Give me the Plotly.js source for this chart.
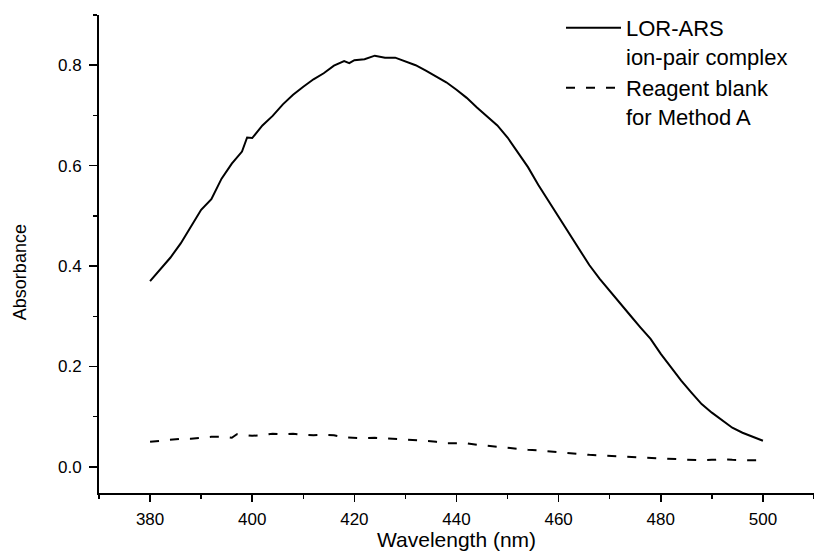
<!DOCTYPE html>
<html>
<head>
<meta charset="utf-8">
<script src="https://cdn.plot.ly/plotly-3.0.1.min.js"></script>
<style>html,body{margin:0;padding:0;background:#fff;}#chart{width:814px;height:553px;}</style>
</head>
<body>
<div id="chart"></div>
<script>
// Wavelength (nm) and absorbance for LOR-ARS ion-pair complex
const complexWavelength = [380,382,384,386,388,390,392,394,396,398,399,400,402,404,406,408,410,412,414,416,418,419,420,422,424,426,428,430,432,434,436,438,440,442,444,446,448,450,452,454,456,458,460,462,464,466,468,470,472,474,476,478,480,482,484,486,488,490,492,494,496,498,500];
const complexAbsorbance = [0.370,0.393,0.417,0.445,0.478,0.512,0.533,0.574,0.604,0.628,0.656,0.655,0.680,0.699,0.722,0.741,0.757,0.772,0.784,0.799,0.808,0.804,0.810,0.812,0.819,0.815,0.815,0.808,0.800,0.789,0.778,0.766,0.751,0.735,0.716,0.698,0.680,0.656,0.627,0.597,0.562,0.530,0.498,0.467,0.434,0.402,0.375,0.350,0.325,0.302,0.278,0.255,0.225,0.198,0.172,0.148,0.125,0.108,0.093,0.078,0.068,0.060,0.052];

// Reagent blank for Method A
const blankWavelength = [380,382,384,386,388,390,392,394,396,397,400,402,404,406,408,410,412,414,416,418,420,422,424,426,428,430,432,434,436,438,440,442,444,446,448,450,452,454,456,458,460,462,464,466,468,470,472,474,476,478,480,482,484,486,488,490,492,494,496,498,500];
const blankAbsorbance = [0.050,0.052,0.055,0.056,0.056,0.058,0.060,0.060,0.058,0.065,0.062,0.063,0.066,0.065,0.066,0.064,0.063,0.064,0.063,0.059,0.058,0.057,0.058,0.057,0.056,0.054,0.054,0.052,0.050,0.047,0.047,0.047,0.044,0.042,0.040,0.037,0.036,0.034,0.033,0.031,0.029,0.027,0.025,0.024,0.023,0.022,0.022,0.020,0.019,0.018,0.017,0.016,0.015,0.014,0.013,0.014,0.015,0.014,0.013,0.013,0.013];

const seriesNames = ['LOR-ARS<br>ion-pair complex', 'Reagent blank<br>for Method A'];
const xTickValues = [380,400,420,440,460,480,500];
const yTickValues = [0.0,0.2,0.4,0.6,0.8];
const xTitle = 'Wavelength (nm)';
const yTitle = 'Absorbance';

const FONT = 'Liberation Sans, Arial, sans-serif';

const traces = [
  {x: complexWavelength, y: complexAbsorbance, type: 'scatter', mode: 'lines', name: seriesNames[0],
   line: {color: '#000', width: 2}},
  {x: blankWavelength, y: blankAbsorbance, type: 'scatter', mode: 'lines', name: seriesNames[1],
   line: {color: '#000', width: 2, dash: '9px,11px'}}
];

const layout = {
  width: 814, height: 553,
  margin: {l: 99, r: 0, t: 15, b: 60, pad: 0},
  paper_bgcolor: '#fff', plot_bgcolor: '#fff',
  font: {family: FONT, color: '#000', size: 17},
  showlegend: true,
  legend: {x: (561-99)/715, y: 1.017, xanchor: 'left', yanchor: 'top', valign: 'top',
           font: {family: FONT, size: 22, color: '#000'}, bgcolor: 'rgba(0,0,0,0)',
           borderwidth: 0, itemwidth: 55, tracegroupgap: 0},
  xaxis: {range: [370, 510], showgrid: false, zeroline: false, showline: true, linecolor: '#000', linewidth: 2,
          ticks: 'outside', ticklen: 7, tickwidth: 1.5, tickcolor: '#000', tickvals: xTickValues,
          tickfont: {family: FONT, size: 17, color: '#000'}, ticklabelstandoff: 3,
          minor: {dtick: 10, tick0: 370, ticks: 'outside', ticklen: 4, tickwidth: 1.5, tickcolor: '#000', showgrid: false}},
  yaxis: {range: [-0.052, 0.9], showgrid: false, zeroline: false, showline: true, linecolor: '#000', linewidth: 2,
          ticks: 'outside', ticklen: 8, tickwidth: 1.5, tickcolor: '#000', tickvals: yTickValues, tickformat: '.1f',
          tickfont: {family: FONT, size: 17, color: '#000'}, ticklabelstandoff: 4,
          minor: {dtick: 0.1, tick0: 0, ticks: 'outside', ticklen: 4, tickwidth: 1.5, tickcolor: '#000', showgrid: false}},
  annotations: [
    {text: xTitle, xref: 'paper', yref: 'paper', x: 0.5, y: -0.1255, xanchor: 'center', yanchor: 'bottom',
     showarrow: false, font: {family: FONT, size: 21, color: '#000'}},
    {text: yTitle, xref: 'paper', yref: 'paper', x: -0.1105, y: 0.462, xanchor: 'center', yanchor: 'middle',
     textangle: -90, showarrow: false, font: {family: FONT, size: 18, color: '#000'}}
  ]
};

Plotly.newPlot('chart', traces, layout, {displayModeBar: false, staticPlot: true});
</script>
</body>
</html>
